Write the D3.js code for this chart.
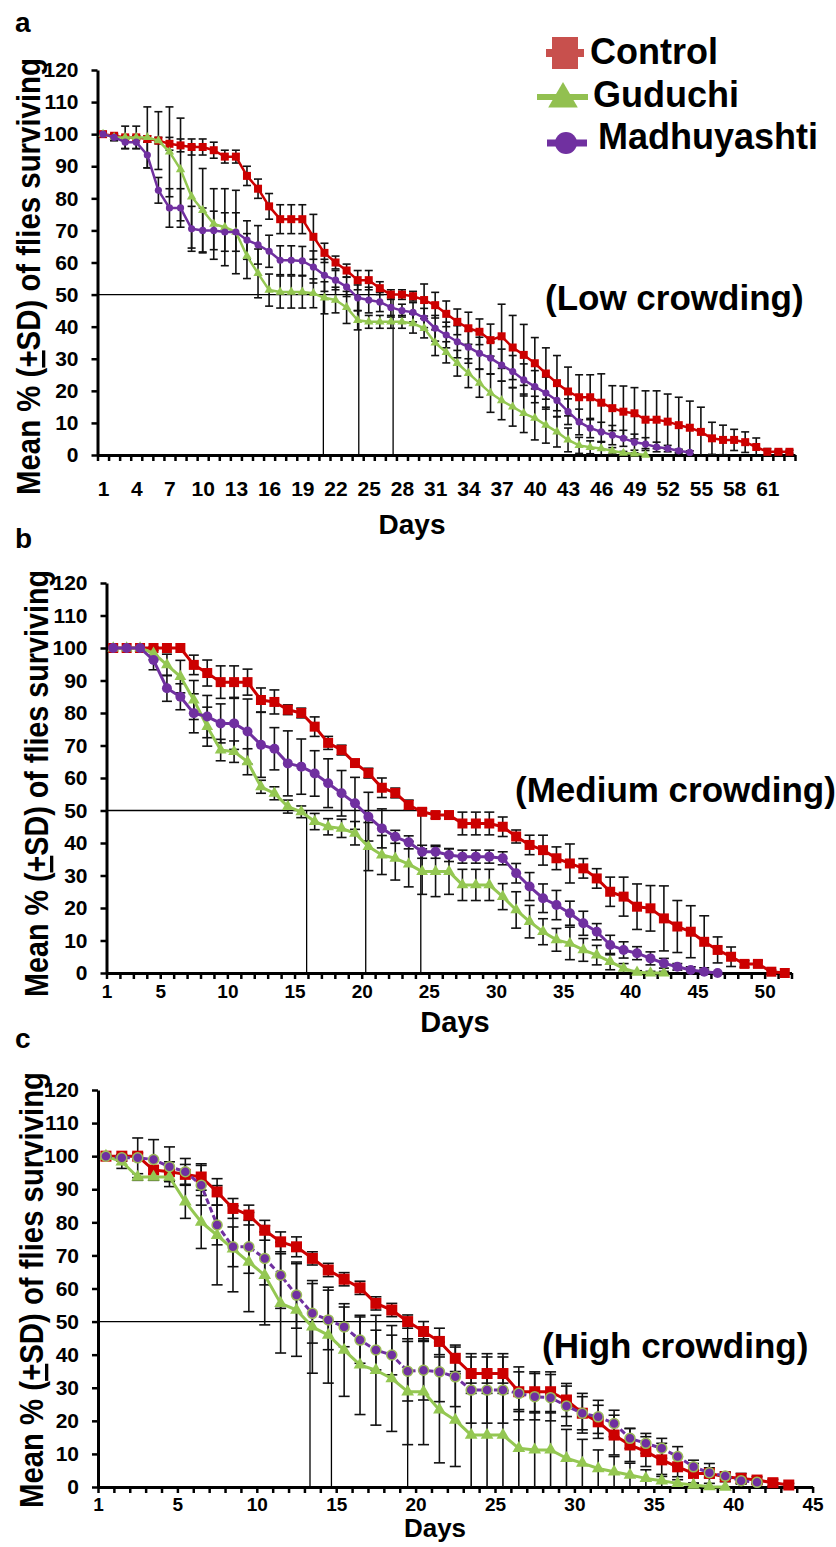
<!DOCTYPE html>
<html><head><meta charset="utf-8">
<script src="https://cdn.jsdelivr.net/npm/d3@7"></script>
<style>
body{margin:0;background:#fff}
svg{display:block}
text{font-family:"Liberation Sans",Arial,Helvetica,sans-serif;font-weight:bold;fill:#000}
</style>
</head><body>
<svg id="chart" width="836" height="1547"></svg>
<script>
// ---------------- DATA ----------------
const seriesNames = ["Control", "Guduchi", "Madhuyashti"];
const yTickValues = [0,10,20,30,40,50,60,70,80,90,100,110,120];

// Panel a: Low crowding (days 1..63)
const xLabelsA = ["1","4","7","10","13","16","19","22","25","28","31","34","37","40","43","46","49","52","55","58","61"];
const controlA = [100,99.5,99,99,98.5,98,97,96.5,96,96,
  95,93,93,87,83,77.5,73.5,73.5,73.5,68,
  63,60,57.5,54.5,54.5,52,50,50,49.5,48.3,
  46.7,44,41.5,39.5,38.4,35.8,37,33.5,31.2,28.6,
  25.4,22.4,19.8,18,18,16.3,14.6,13.5,13,11,
  11,10.4,9.3,8.5,7.2,5.2,4.7,4.7,4,2.5,
  1,1,1];
const controlSdA = [0.5,0.5,0.5,0.5,1,1,2,2,2.5,2.5,
  2.5,2,2,3,3,4,4.5,4.5,4.5,7,
  3,2,2,3,3,2,1.5,1.5,1.5,5,
  4,4,4,5,4,5,10,10,9.5,8,
  8,8.6,7.6,7,7,9,7,8,8,9,
  9,8.6,8.7,8.3,7.7,5,4.6,3.3,3.2,2.8,
  1,0.5,0.5];
const guduchiA = [100,99,99,99,99,98,94.5,89,80.5,76.3,
  72,71,69.5,62,56.6,51.4,50.8,50.8,50.8,50.4,
  49,48.3,46,42,41.5,41.5,41.5,41.5,41,39.5,
  35,32,28.6,25.5,22.4,19.3,17,15,13,11.5,
  9.3,7.2,4.7,3,2.4,2,1.3,0.6,0.4,0];
const guduchiSdA = [0,1,3.5,3.5,9.5,9,14,16,16,13,
  11,12,13,7,7.6,5,5,5,5,4.5,
  5,4,5,3,2,2,2,2,3,3,
  4,3.3,4,4.5,4.4,6,6,6,6,6.8,
  5.6,4.7,3.7,2.5,2,2,1,0.5,0.3,0];
const madhuA = [100,99,97.5,97.5,93.5,82.5,77,77,70.5,70,
  70,69.5,69.5,67,65.5,63.5,60.7,60.7,60.5,58.6,
  56,54.5,52.4,49,48.3,47.7,46,45,44.5,42.7,
  39.5,37.4,35.3,33.6,31.7,30.2,28,26,23.4,21.3,
  19.3,17,13.5,10.3,8.4,7.2,6.2,5.2,4,3.4,
  2.5,2,1.3,0.8];
const madhuSdA = [0,1,2,2,4,4,6,6,7,7,
  6,6,6,6,6,5,4.5,4.5,4.5,5,
  5,3,3,4,4,3,3,2,3,3,
  4,4,5,5,5,5,5,5,5,5,
  5,5,4,4,3,3,3,2.5,2.5,2,
  1.5,1,0.5,0.5];
const mediansA = [20.9, 24.1, 27.2];

// Panel b: Medium crowding (days 1..51)
const xLabelsB = ["1","5","10","15","20","25","30","35","40","45","50"];
const controlB = [100,100,100,100,100,100,94.8,92.3,89.5,89.5,
  89.5,84,83.4,81,80,75.8,70.8,68.6,64.6,61.5,
  57,55.4,51.7,49.6,48.6,48.6,46,46,46,45,
  42,39.4,37.8,35.3,33.7,32.2,29.1,25,23.5,20.4,
  19.9,16.8,14.3,12.7,9.6,7.1,5,2.8,2.8,0.4,
  0];
const controlSdB = [0,0,0,0,0,0,3,4,5,5,
  4,3.7,3.7,1.5,1.5,3,2,1.5,1,1.5,
  3,1.5,1.5,1,1,1,3.5,3.5,3.5,3,
  2,3,4.6,3.5,6,3,3,4.5,6,7,
  7,10,8,8,8,4,3,1,1,0.5,
  0];
const guduchiB = [100,100,100,98.4,94.8,91.2,84,75.8,68.6,68.1,
  65,57.3,55.3,51.2,49.6,46.6,45,44.5,43,38.9,
  36.3,35.3,33.5,31.2,31.2,31.2,27.1,27.1,27.1,23.5,
  19.4,15.8,12.7,10.2,9.1,7.1,5.5,3.5,1.4,0.2,
  0,0];
const guduchiSdB = [0,0,0,2,3.3,5,6,6,3.3,3.3,
  4,2,2,2,1.8,2.5,2.5,2.8,3.6,7.4,
  6,6.7,7,7,7.7,7,4.8,4.8,4.8,4,
  5.6,5,4,3.5,5,3.5,3,2.5,1.5,0.5,
  0.5,0.5];
const madhuB = [100,100,100,96.3,87.6,85,79.9,78.9,76.8,76.8,
  74.3,70.2,69,64.5,63.5,61.4,58.4,55.3,52.2,48.1,
  44.5,41.9,40.2,37.3,37.3,36.3,35.8,35.8,35.8,35.3,
  30.7,26.6,23,20.9,18.4,15.3,12.7,8.6,7.1,6.1,
  4.5,3,1.9,0.9,0.4,0];
const madhuSdB = [0,0,0,3,4,4,6,6.5,6,8,
  10,10,6.5,10,8.5,7,7.5,7,8,7.5,
  6,2,2,2,2,2,2,2,2,2,
  3,4.3,4.4,4.5,3.7,3.7,2.5,3,2.5,2,
  2,1.5,1,1,0.5,0];
const mediansB = [15.4, 19.8, 23.9];

// Panel c: High crowding (days 1..44)
const xLabelsC = ["1","5","10","15","20","25","30","35","40","45"];
const controlC = [100,100,100,95.8,95.3,94.5,93.7,89.2,84.2,82.2,
  77.6,74.1,72.6,69.1,65.6,62.8,60.2,55.5,53.5,50,
  47,44,38.9,34.3,34.3,34.3,28.8,28.8,28.8,26.3,
  22.3,19.7,15.7,12.7,10.7,8.2,6.1,4.1,4.1,3.1,
  2.6,2.1,1.3,0.6];
const controlSdC = [0,0,1,3,3,3,4,4,3,3,
  3,3,3,2,2,2,2,2,2,2,
  3,4,4,6,6,6,6,6,6,5,
  5,5,6,5,4.5,5,3,3,3,1.5,
  1.5,1,1,0.5];
const guduchiC = [100,98.3,93.7,93.7,93.7,86.2,80.1,76.1,72,68,
  64,55.5,53.5,48.4,45.9,41.4,36.9,35.3,32.8,28.8,
  28.8,23.3,20.2,15.7,15.7,15.7,11.7,11.2,11.2,8.7,
  7.2,5.6,4.6,3.6,2.6,1.9,1.1,0.6,0.1,0];
const guduchiSdC = [0,2,1,1,1,5,8,15,13,15,
  15,15,14,14,14.5,14,15,16.6,16,16,
  16,16,14,15.7,15.7,15.7,11.7,11.2,11.2,8.7,
  7.2,5.6,4.6,3.6,2.6,1.9,1.1,0.6,0,0];
const madhuC = [100,99.5,99.5,99,96.8,95.3,91.2,79.2,72.6,72.6,
  69.1,64,58,52.5,50.5,48.4,44.4,41.4,39.9,35,
  35.3,34.8,33.3,29.3,29.3,29.3,28.3,27.3,27,24.5,
  22.3,21.2,19.2,14.7,13.2,11.7,9.2,6.1,4.3,3.3,
  1.9,1.4];
const madhuSdC = [0,1,6,6,6,4,6,6,6,8,
  8,10,10,9,9,6,7,6,6,9,
  9,9,9,10,10,10,8,7,7,6,
  6,5,4,3,3,3,3,2,1.5,1,
  1,0.5];
const mediansC = [13.85, 15.2, 20.0];

const panelTitles = ["(Low crowding)", "(Medium crowding)", "(High crowding)"];
const panelLetters = ["a", "b", "c"];

// ---------------- STYLE / LAYOUT ----------------
const colors = {Control:"#cc0000", Guduchi:"#94c752", Madhuyashti:"#7030a0"};
const legendColors = {Control:"#c8504d", Guduchi:"#92c050", Madhuyashti:"#7030a0"};

const layouts = [
  {n:63, xl:97.5, xr:795, yb:455, yt:70, labelShift:0, firstAtAxis:false,
   xFont:21, xPad:26, lw:2.5, sq:8, cr:3.6, tri:38, cap:4, purpleDash:null, purpleStroke:null,
   letter:[15,32], title:[545,310], days:[412,534,28], ytitle:[40,276.5,437]},
  {n:51, xl:106.5, xr:791.5, yb:973, yt:583, labelShift:-0.5, firstAtAxis:false,
   xFont:19, xPad:12, lw:3, sq:10, cr:5, tri:60, cap:5, purpleDash:null, purpleStroke:null,
   letter:[15,548], title:[515,802], days:[455,1032,29], ytitle:[48,783.5,427]},
  {n:45, xl:98, xr:812.6, yb:1487, yt:1090, labelShift:0.5, firstAtAxis:true,
   xFont:19, xPad:11, lw:3, sq:11, cr:5, tri:70, cap:5.5, purpleDash:"6,3", purpleStroke:"#9bbb59",
   letter:[15,1048], title:[542,1358], days:[435,1537,26], ytitle:[43,1290,436]}
];

const panelData = [
  {labels:xLabelsA, medians:mediansA, series:[
    {name:"Control", v:controlA, sd:controlSdA},
    {name:"Guduchi", v:guduchiA, sd:guduchiSdA},
    {name:"Madhuyashti", v:madhuA, sd:madhuSdA}]},
  {labels:xLabelsB, medians:mediansB, series:[
    {name:"Control", v:controlB, sd:controlSdB},
    {name:"Guduchi", v:guduchiB, sd:guduchiSdB},
    {name:"Madhuyashti", v:madhuB, sd:madhuSdB}]},
  {labels:xLabelsC, medians:mediansC, series:[
    {name:"Control", v:controlC, sd:controlSdC},
    {name:"Guduchi", v:guduchiC, sd:guduchiSdC},
    {name:"Madhuyashti", v:madhuC, sd:madhuSdC}]}
];

const svg = d3.select("#chart");

function drawPanel(L, D, idx) {
  const x = d3.scaleLinear().domain([0.5, L.n + 0.5]).range([L.xl, L.xr]);
  const y = d3.scaleLinear().domain([0, 120]).range([L.yb, L.yt]);
  const g = svg.append("g");

  // Median reference lines
  const maxMed = d3.max(D.medians);
  g.append("line").attr("x1", L.xl).attr("x2", x(maxMed))
    .attr("y1", y(50)).attr("y2", y(50)).attr("stroke", "#000").attr("stroke-width", 1.3);
  g.selectAll(".med").data(D.medians).enter().append("line")
    .attr("x1", d => x(d)).attr("x2", d => x(d))
    .attr("y1", y(50)).attr("y2", y(0)).attr("stroke", "#000").attr("stroke-width", 1.3);

  // Y axis
  const yAxis = d3.axisLeft(y).tickValues(yTickValues).tickSize(6).tickSizeOuter(0).tickPadding(13)
    .tickFormat(d3.format("d"));
  const ya = g.append("g").attr("transform", `translate(${L.xl},0)`).call(yAxis);
  ya.select(".domain").attr("stroke-width", 3);
  ya.selectAll(".tick line").attr("stroke-width", 2.5);
  ya.selectAll(".tick text").style("font-size", "21px").style("font-family", "Liberation Sans, Arial, sans-serif")
    .style("font-weight", "bold").attr("fill", "#222");

  // X axis ticks (category boundaries)
  const bounds = d3.range(0, L.n + 1).map(i => i + 0.5);
  const xAxis = d3.axisBottom(x).tickValues(bounds).tickSize(6).tickSizeOuter(0).tickFormat("");
  const xa = g.append("g").attr("transform", `translate(0,${L.yb})`).call(xAxis);
  xa.select(".domain").attr("stroke-width", 3);
  xa.selectAll(".tick line").attr("stroke-width", 2.5);

  // X labels
  const labelPos = D.labels.map((t, i) => (i === 0 && L.firstAtAxis) ? 0.5 : (+t + L.labelShift));
  const lab = d3.axisBottom(x).tickValues(labelPos).tickSize(0).tickPadding(L.xPad)
    .tickFormat((d, i) => D.labels[i]);
  const la = g.append("g").attr("transform", `translate(0,${L.yb})`).call(lab);
  la.select(".domain").remove();
  la.selectAll(".tick text").style("font-size", L.xFont + "px").style("font-family", "Liberation Sans, Arial, sans-serif")
    .style("font-weight", "bold").attr("fill", "#222");

  // Error bars
  D.series.forEach(s => {
    const eg = g.append("g");
    s.v.forEach((v, i) => {
      const sd = s.sd[i];
      if (!sd) return;
      const cx = x(i + 1);
      const lo = y(Math.max(0, v - sd)), hi = y(v + sd);
      eg.append("line").attr("x1", cx).attr("x2", cx).attr("y1", lo).attr("y2", hi)
        .attr("stroke", "#111").attr("stroke-width", 1.6);
      eg.append("line").attr("x1", cx - L.cap).attr("x2", cx + L.cap).attr("y1", hi).attr("y2", hi)
        .attr("stroke", "#111").attr("stroke-width", 1.6);
      if (v - sd > 0)
        eg.append("line").attr("x1", cx - L.cap).attr("x2", cx + L.cap).attr("y1", lo).attr("y2", lo)
          .attr("stroke", "#111").attr("stroke-width", 1.6);
    });
  });

  // Series lines + markers
  D.series.forEach(s => {
    const col = colors[s.name];
    const line = d3.line().x((v, i) => x(i + 1)).y(v => y(v));
    const path = g.append("path").datum(s.v).attr("d", line).attr("fill", "none")
      .attr("stroke", col).attr("stroke-width", L.lw).attr("stroke-linejoin", "round");
    if (s.name === "Madhuyashti" && L.purpleDash) path.attr("stroke-dasharray", L.purpleDash);
    const mg = g.append("g");
    if (s.name === "Control") {
      mg.selectAll("rect").data(s.v).enter().append("rect")
        .attr("x", (v, i) => x(i + 1) - L.sq / 2).attr("y", v => y(v) - L.sq / 2)
        .attr("width", L.sq).attr("height", L.sq).attr("fill", col);
    } else if (s.name === "Guduchi") {
      const sym = d3.symbol(d3.symbolTriangle).size(L.tri);
      mg.selectAll("path").data(s.v).enter().append("path").attr("d", sym)
        .attr("transform", (v, i) => `translate(${x(i + 1)},${y(v)})`).attr("fill", col);
    } else {
      mg.selectAll("circle").data(s.v).enter().append("circle")
        .attr("cx", (v, i) => x(i + 1)).attr("cy", v => y(v)).attr("r", L.cr).attr("fill", col)
        .attr("stroke", L.purpleStroke || "none").attr("stroke-width", L.purpleStroke ? 1.5 : 0);
    }
  });

  // Panel letter
  svg.append("text").attr("x", L.letter[0]).attr("y", L.letter[1]).style("font-size", "28px").text(panelLetters[idx]);
  // Panel title
  svg.append("text").attr("x", L.title[0]).attr("y", L.title[1]).style("font-size", "35px").text(panelTitles[idx]);
  // X title
  svg.append("text").attr("x", L.days[0]).attr("y", L.days[1]).attr("text-anchor", "middle")
    .style("font-size", L.days[2] + "px").text("Days");
  // Y title
  const yt = svg.append("text").attr("transform", `translate(${L.ytitle[0]},${L.ytitle[1]}) rotate(-90)`)
    .attr("text-anchor", "middle").style("font-size", "33px")
    .attr("textLength", L.ytitle[2]).attr("lengthAdjust", "spacingAndGlyphs");
  yt.append("tspan").text("Mean % (");
  yt.append("tspan").style("text-decoration", "underline").text("+");
  yt.append("tspan").text("SD) of flies surviving");
}

layouts.forEach((L, i) => drawPanel(L, panelData[i], i));

// Legend (panel a)
const legendRows = [
  {name:"Control", cy:53, tx:590, ty:64},
  {name:"Guduchi", cy:97, tx:593, ty:107},
  {name:"Madhuyashti", cy:143, tx:598, ty:149}
];
const lg = svg.append("g");
legendRows.forEach(r => {
  const c = legendColors[r.name];
  if (r.name === "Control") {
    lg.append("line").attr("x1", 546).attr("x2", 584).attr("y1", r.cy).attr("y2", r.cy).attr("stroke", c).attr("stroke-width", 8);
    lg.append("rect").attr("x", 552).attr("y", r.cy - 16).attr("width", 26).attr("height", 32).attr("fill", c);
  } else if (r.name === "Guduchi") {
    lg.append("line").attr("x1", 537).attr("x2", 588).attr("y1", r.cy).attr("y2", r.cy).attr("stroke", c).attr("stroke-width", 6);
    lg.append("path").attr("d", d3.symbol(d3.symbolTriangle).size(380)).attr("transform", `translate(563,${r.cy + 2})`).attr("fill", c);
  } else {
    lg.append("line").attr("x1", 547).attr("x2", 587).attr("y1", r.cy).attr("y2", r.cy).attr("stroke", c).attr("stroke-width", 7);
    lg.append("circle").attr("cx", 566).attr("cy", r.cy).attr("r", 11).attr("fill", c);
  }
  lg.append("text").attr("x", r.tx).attr("y", r.ty).style("font-size", "36px").text(r.name);
});
</script>
</body></html>
